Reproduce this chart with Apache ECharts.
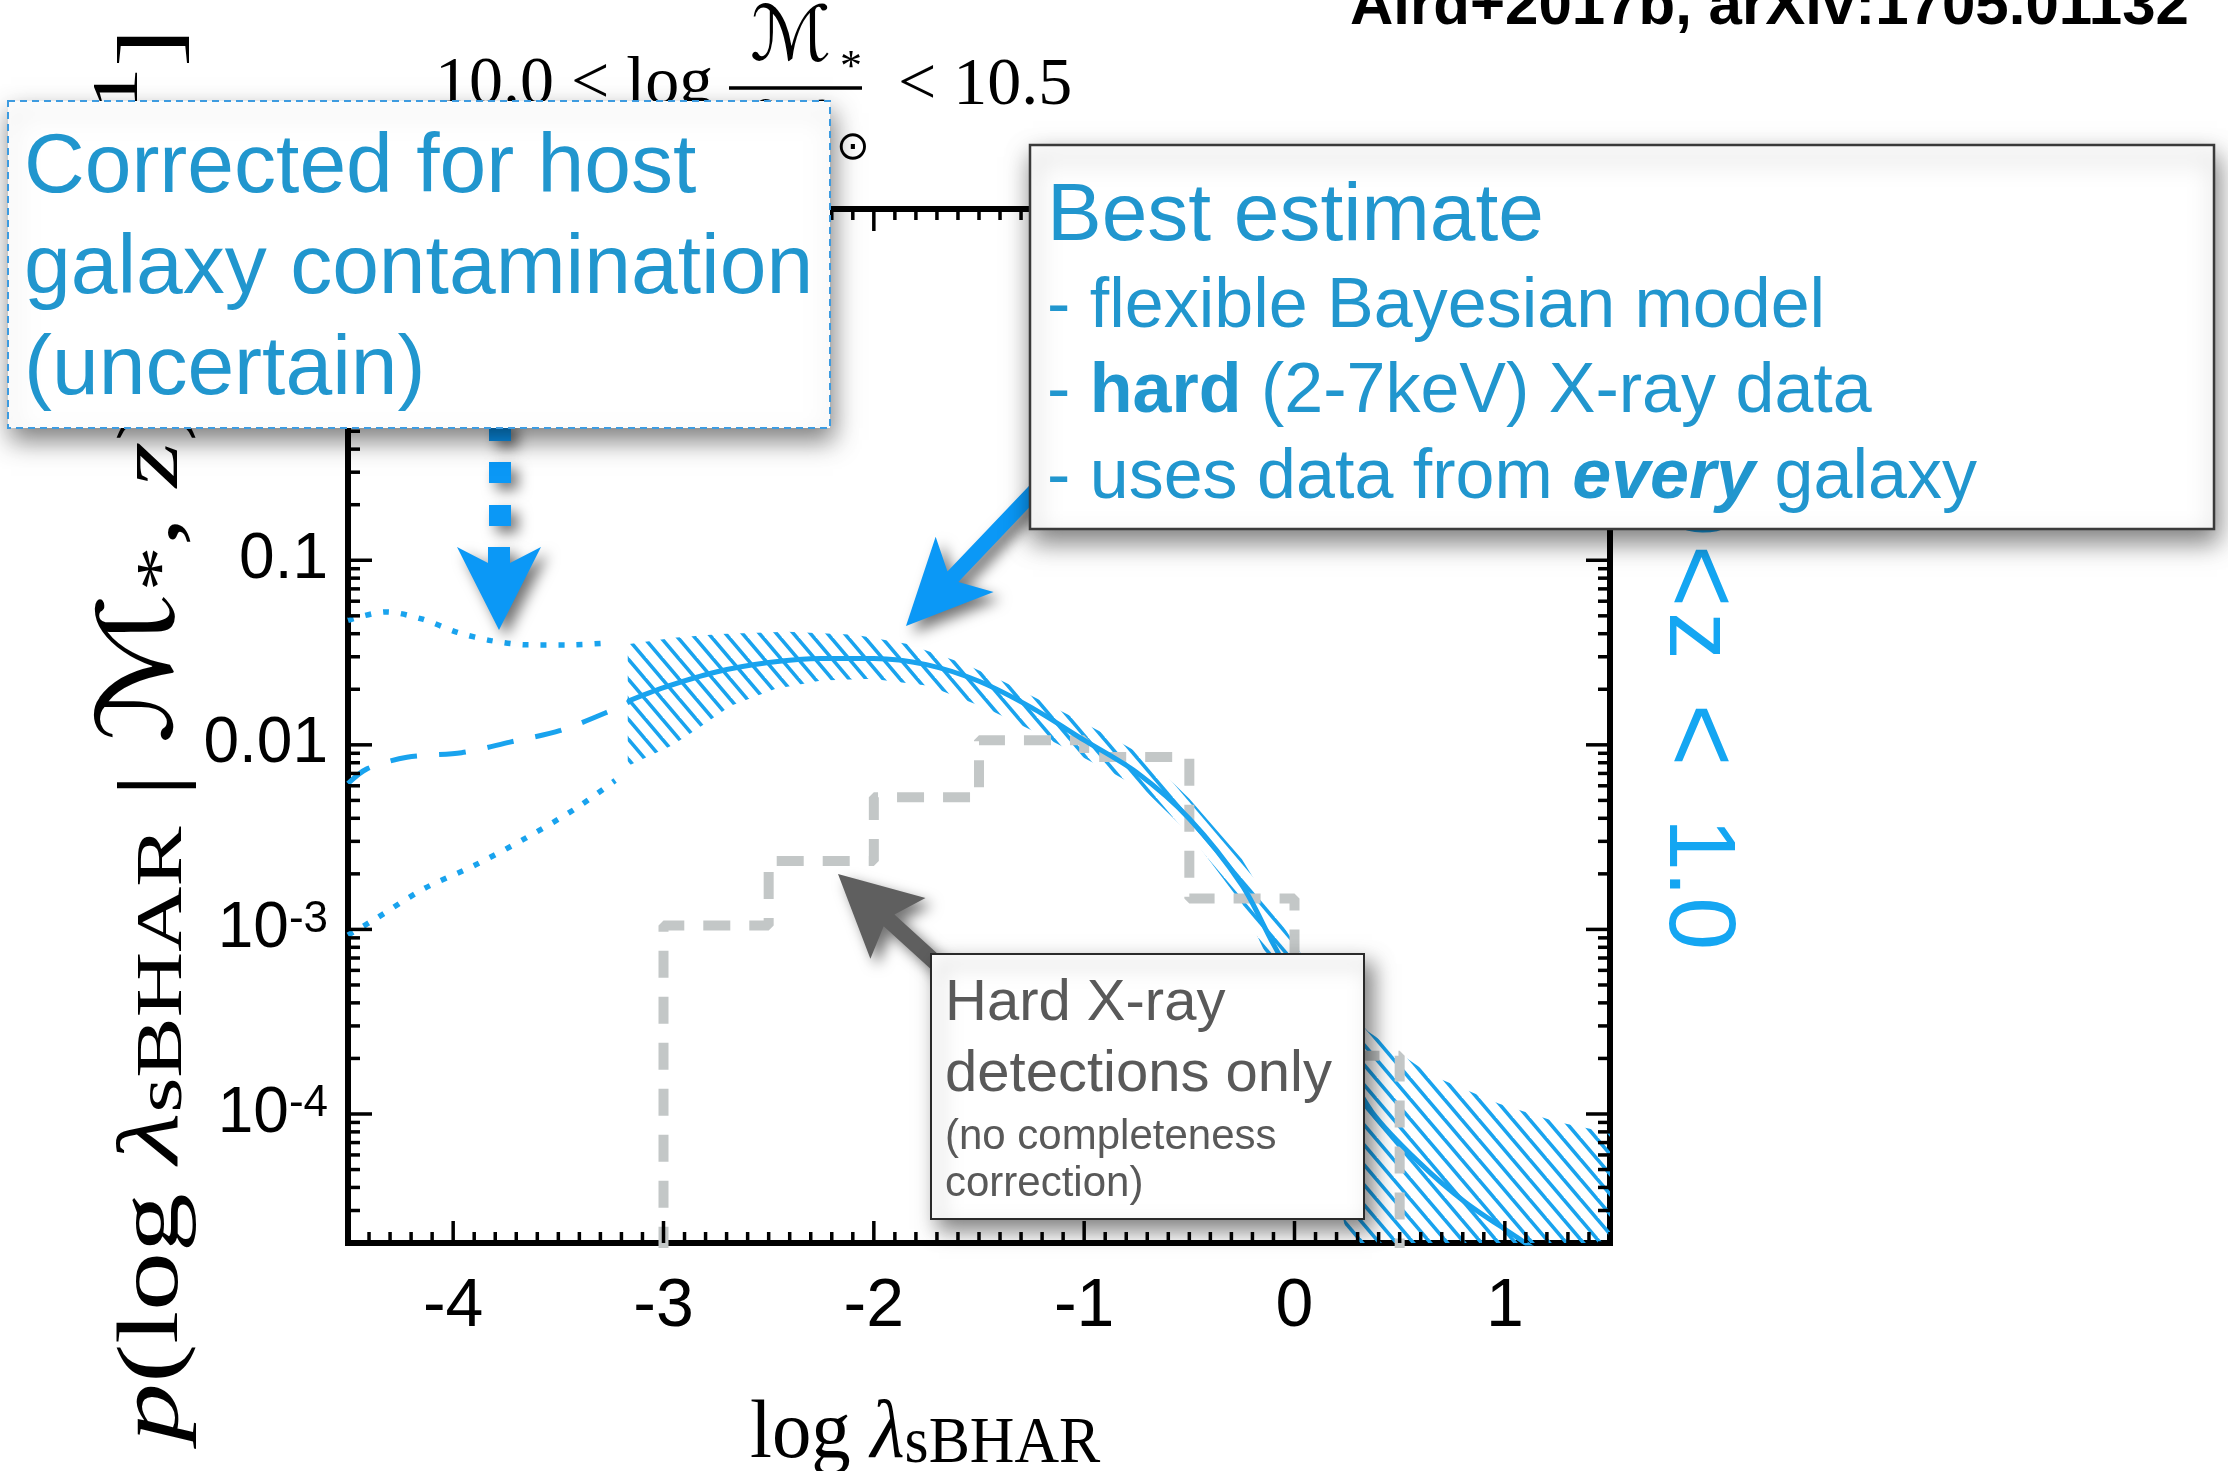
<!DOCTYPE html>
<html>
<head>
<meta charset="utf-8">
<script src="https://cdn.jsdelivr.net/npm/echarts@6/dist/echarts.min.js"></script>
<style>
  html, body { margin: 0; padding: 0; background: #fff; }
  #chart { width: 2228px; height: 1471px; }
</style>
</head>
<body>
<div id="chart"></div>
<script>
// ---------- axes ----------
const xRange = [-4.5, 1.5];
const yRange = [2e-5, 8];
const xTicks = [-4, -3, -2, -1, 0, 1];
const yTicks = [1e-4, 1e-3, 0.01, 0.1, 1];
const yTickLabels = ['10{sup|-4}', '10{sup|-3}', '0.01', '0.1', '1'];

// ---------- hard X-ray detections (no completeness correction) ----------
const histEdges = [-3, -2.5, -2, -1.5, -1, -0.5, 0, 0.5];
const histValues = [1.05e-3, 2.35e-3, 5.2e-3, 0.0106, 8.6e-3, 1.47e-3, 2.07e-4];
const histFloor = 1e-7; // empty bins outside the detected range

// ---------- best estimate: median and uncertainty band ----------
const medianX = [-3.17, -3.0, -2.75, -2.5, -2.25, -2.0, -1.75, -1.5, -1.25, -1.0, -0.75, -0.5, -0.25, -0.1, 0.0, 0.2, 0.37, 0.59, 0.81, 1.06, 1.15];
const medianP = [0.0172, 0.0204, 0.0248, 0.0279, 0.0294, 0.0294, 0.0272, 0.0221, 0.0159, 0.0106, 0.00708, 0.00398, 0.00174, 8.3e-4, 5.25e-4, 2.19e-4, 1.02e-4, 5.5e-5, 3.34e-5, 2.14e-5, 1.82e-5];

const upperX = [-3.17, -2.95, -2.73, -2.41, -2.09, -1.84, -1.57, -1.38, -1.19, -1.01, -0.86, -0.7, -0.5, -0.25, -0.1, 0.1, 0.35, 0.65, 0.97, 1.24, 1.5];
const upperP = [0.0351, 0.0380, 0.0399, 0.0410, 0.0395, 0.0352, 0.0275, 0.0219, 0.0170, 0.0133, 0.0108, 0.0085, 0.0051, 0.0024, 0.00126, 5.6e-4, 2.8e-4, 1.62e-4, 1.14e-4, 9.1e-5, 7.9e-5];

const lowerX = [-3.17, -2.96, -2.84, -2.68, -2.47, -2.25, -2.01, -1.74, -1.46, -1.25, -1.05, -0.86, -0.7, -0.5, -0.25, -0.1, 0.05, 0.2, 0.35, 0.6, 1.0, 1.5];
const lowerP = [0.00767, 0.00991, 0.0122, 0.0163, 0.0201, 0.0223, 0.0228, 0.0209, 0.0157, 0.0120, 0.0091, 0.0070, 0.0055, 0.0033, 0.00138, 6.0e-4, 2.0e-4, 4.0e-5, 6.3e-6, 1e-6, 1e-7, 1e-8];

// ---------- host-galaxy corrected extension (uncertain) ----------
const hostMidX = [-4.5, -4.41, -4.22, -3.96, -3.73, -3.49, -3.23, -3.16];
const hostMidP = [0.00617, 0.00741, 0.00857, 0.00906, 0.01035, 0.01197, 0.01567, 0.01718];
const hostHiX = [-4.5, -4.32, -4.15, -3.98, -3.82, -3.64, -3.45, -3.27];
const hostHiP = [0.0473, 0.0525, 0.0481, 0.0407, 0.0367, 0.0348, 0.0348, 0.0356];
const hostLoX = [-4.5, -4.37, -4.14, -3.90, -3.66, -3.42, -3.23];
const hostLoP = [9.3e-4, 1.14e-3, 1.66e-3, 2.22e-3, 3.10e-3, 4.50e-3, 6.41e-3];

// ---------- styling ----------
const BLUE = '#19a3ee';
const ARROW_BLUE = '#0b98f6';
const TEXT_BLUE = '#2196ce';
const Z_BLUE = '#14a6f2';
const GREY = '#c3c7c7';
const SANS = '"Liberation Sans", Arial, Helvetica, sans-serif';
const SERIF = '"Liberation Serif", "Times New Roman", serif';
const SCRIPT = '"DejaVu Serif", "DejaVu Sans", serif';

const zip = (xs, ys) => xs.map((x, i) => [x, ys[i]]);

function histPoints(edges, vals, floor) {
  const pts = [[edges[0], floor]];
  vals.forEach((v, i) => { pts.push([edges[i], v]); pts.push([edges[i + 1], v]); });
  pts.push([edges[edges.length - 1], floor]);
  return pts;
}

function makeHatch(color, w, h, lw) {
  const c = document.createElement('canvas');
  c.width = w; c.height = h;
  const g = c.getContext('2d');
  g.strokeStyle = color; g.lineWidth = lw;
  for (let k = -1; k <= 1; k++) {
    g.beginPath();
    g.moveTo(k * w - w, -h);
    g.lineTo(k * w + 2 * w, 2 * h);
    g.stroke();
  }
  return c;
}
const hatch = { image: makeHatch(BLUE, 17, 20, 3.6), repeat: 'repeat' };

// arrow outline: tip, unit direction towards the tail, head and shaft sizes
function arrowPts(tip, ux, uy, headLen, headHalf, notch, shaftHalf, shaftLen) {
  const nx = -uy, ny = ux;
  const P = (a, b) => [tip[0] + ux * a + nx * b, tip[1] + uy * a + ny * b];
  return [P(0, 0), P(headLen, headHalf), P(notch, shaftHalf), P(shaftLen, shaftHalf),
          P(shaftLen, -shaftHalf), P(notch, -shaftHalf), P(headLen, -headHalf)];
}
const shadow = { shadowColor: 'rgba(0,0,0,0.55)', shadowBlur: 14, shadowOffsetX: 7, shadowOffsetY: 7 };
const boxShadow = { shadowColor: 'rgba(0,0,0,0.5)', shadowBlur: 24, shadowOffsetX: 3, shadowOffsetY: 12 };

function txt(x, y, text, size, fill, extra) {
  return {
    type: 'text', x: x, y: y, silent: true, z: 51,
    style: Object.assign({ text: text, fontSize: size, fontFamily: SANS, fill: fill, verticalAlign: 'middle', align: 'left' }, extra || {})
  };
}
// one glyph group of the rotated redshift label, centred at y
function zPiece(y, text, size) {
  return {
    type: 'text', x: 1696, y: y, rotation: -Math.PI / 2, z: 10, silent: true,
    style: { text: text, fontSize: size, fontFamily: SANS, fill: Z_BLUE, align: 'center', verticalAlign: 'middle' }
  };
}

const chart = echarts.init(document.getElementById('chart'), null, { renderer: 'canvas' });

const bu = (() => { const l = Math.hypot(1, -1.05); return [1 / l, -1.05 / l]; })();

const option = {
  backgroundColor: '#fff',
  animation: false,
  grid: { left: 348, top: 209, width: 1262, height: 1034, show: true, borderColor: '#000', borderWidth: 6, backgroundColor: 'transparent' },
  xAxis: {
    type: 'value', min: xRange[0], max: xRange[1], interval: 0.5,
    axisLine: { show: false }, axisTick: { show: false }, splitLine: { show: false },
    axisLabel: {
      margin: 30, fontSize: 68, color: '#000', fontFamily: SANS,
      formatter: v => (xTicks.indexOf(v) >= 0 ? String(v) : '')
    }
  },
  yAxis: {
    type: 'log', logBase: 10, min: yRange[0], max: yRange[1],
    axisLine: { show: false }, axisTick: { show: false }, splitLine: { show: false },
    axisLabel: {
      margin: 20, fontSize: 64, color: '#000', fontFamily: SANS, showMinLabel: false, showMaxLabel: false,
      formatter: v => {
        for (let i = 0; i < yTicks.length; i++) {
          if (Math.abs(Math.log10(v) - Math.log10(yTicks[i])) < 1e-6) return yTickLabels[i];
        }
        return '';
      },
      rich: {
        sup: { fontSize: 44, lineHeight: 44, verticalAlign: 'top', fontFamily: SANS, color: '#000' }
      }
    }
  },
  series: [
    {
      type: 'custom', name: 'band', z: 2, silent: true,
      data: [[0, 0]],
      renderItem: (params, api) => {
        const cs = params.coordSys;
        const pts = upperX.map((x, i) => api.coord([x, upperP[i]]));
        for (let i = lowerX.length - 1; i >= 0; i--) pts.push(api.coord([lowerX[i], lowerP[i]]));
        return {
          type: 'polygon',
          shape: { points: pts },
          style: { fill: hatch, stroke: null },
          clipPath: { type: 'rect', shape: { x: cs.x, y: cs.y, width: cs.width, height: cs.height } }
        };
      }
    },
    {
      type: 'line', name: 'hard X-ray detections', z: 3, silent: true, showSymbol: false, symbol: 'none', clip: true,
      data: histPoints(histEdges, histValues, histFloor),
      lineStyle: { color: GREY, width: 10, type: [27, 19], cap: 'butt' }
    },
    {
      type: 'line', name: 'median', z: 4, silent: true, showSymbol: false, symbol: 'none', clip: true, smooth: 0.3,
      data: zip(medianX, medianP),
      lineStyle: { color: BLUE, width: 5 }
    },
    {
      type: 'line', name: 'host corrected', z: 4, silent: true, showSymbol: false, symbol: 'none', clip: true, smooth: 0.3,
      data: zip(hostMidX, hostMidP),
      lineStyle: { color: BLUE, width: 5, type: [27, 22], cap: 'butt' }
    },
    {
      type: 'line', name: 'host upper', z: 4, silent: true, showSymbol: false, symbol: 'none', clip: true, smooth: 0.3,
      data: zip(hostHiX, hostHiP),
      lineStyle: { color: BLUE, width: 5.5, type: [6, 12], cap: 'butt' }
    },
    {
      type: 'line', name: 'host lower', z: 4, silent: true, showSymbol: false, symbol: 'none', clip: true, smooth: 0.3,
      data: zip(hostLoX, hostLoP),
      lineStyle: { color: BLUE, width: 5.5, type: [6, 12], cap: 'butt' }
    },
    {
      // inward tick marks on all four sides of the frame
      type: 'custom', name: 'ticks', z: 6, silent: true,
      data: [[0, 0]],
      renderItem: (params, api) => {
        const cs = params.coordSys;
        const children = [];
        const st = { stroke: '#000', lineWidth: 3.5 };
        const b = cs.y + cs.height, t = cs.y, l = cs.x, r = cs.x + cs.width;
        for (let k = Math.round(xRange[0] * 10); k <= Math.round(xRange[1] * 10); k++) {
          const px = api.coord([k / 10, yRange[0]])[0];
          const len = (k % 10 === 0) ? 22 : 11;
          children.push({ type: 'line', shape: { x1: px, y1: b, x2: px, y2: b - len }, style: st });
          children.push({ type: 'line', shape: { x1: px, y1: t, x2: px, y2: t + len }, style: st });
        }
        for (let d = -5; d <= 0; d++) {
          for (let m = 1; m <= 9; m++) {
            const v = m * Math.pow(10, d);
            if (v < yRange[0] || v > yRange[1]) continue;
            const py = api.coord([xRange[0], v])[1];
            const len = (m === 1) ? 24 : 12;
            children.push({ type: 'line', shape: { x1: l, y1: py, x2: l + len, y2: py }, style: st });
            children.push({ type: 'line', shape: { x1: r, y1: py, x2: r - len, y2: py }, style: st });
          }
        }
        return { type: 'group', children: children };
      }
    }
  ],
  graphic: {
    elements: [
      // reference line at the top right
      { type: 'text', x: 1350, y: 7, z: 60, silent: true,
        style: { text: 'Aird+2017b, arXiv:1705.01132', fontSize: 60, fontWeight: 'bold', fontFamily: SANS, fill: '#000', verticalAlign: 'middle' } },

      // stellar-mass bin title
      { type: 'text', x: 435, y: 85, z: 10, silent: true,
        style: { text: '10.0 < log', fontSize: 68, fontFamily: SERIF, fill: '#000', verticalAlign: 'middle' } },
      { type: 'text', x: 750, y: 40, z: 10, silent: true,
        style: { text: 'ℳ', fontSize: 76, fontFamily: SCRIPT, fill: '#000', verticalAlign: 'middle' } },
      { type: 'text', x: 840, y: 68, z: 10, silent: true,
        style: { text: '*', fontSize: 44, fontFamily: SERIF, fill: '#000', verticalAlign: 'middle' } },
      { type: 'line', z: 10, silent: true, shape: { x1: 729, y1: 88, x2: 862, y2: 88 }, style: { stroke: '#000', lineWidth: 3.5 } },
      { type: 'text', x: 750, y: 136, z: 10, silent: true,
        style: { text: 'ℳ', fontSize: 76, fontFamily: SCRIPT, fill: '#000', verticalAlign: 'middle' } },
      { type: 'text', x: 836, y: 149, z: 10, silent: true,
        style: { text: '⊙', fontSize: 40, fontFamily: '"DejaVu Sans", sans-serif', fill: '#000', verticalAlign: 'middle' } },
      { type: 'text', x: 898, y: 86, z: 10, silent: true,
        style: { text: '< 10.5', fontSize: 68, fontFamily: SERIF, fill: '#000', verticalAlign: 'middle' } },

      // y-axis title (reads upwards)
      { type: 'text', x: 197, y: 1442, rotation: Math.PI / 2, scaleX: 1.37, z: 10, silent: true,
        style: {
          text: '{i|p}{r|(log }{i|λ}{s|sBHAR}{r| | }{c|ℳ}{s|*}{r|, }{i|z}{r|) [dex}{p|−1}{r|]}',
          align: 'left', verticalAlign: 'bottom',
          rich: {
            r: { fontSize: 86, lineHeight: 110, fontFamily: SERIF, fill: '#000', verticalAlign: 'bottom' },
            i: { fontSize: 86, lineHeight: 110, fontFamily: SERIF, fontStyle: 'italic', fill: '#000', verticalAlign: 'bottom' },
            c: { fontSize: 104, lineHeight: 110, fontFamily: SCRIPT, fill: '#000', verticalAlign: 'bottom' },
            s: { fontSize: 66, lineHeight: 74, fontFamily: SERIF, fill: '#000', verticalAlign: 'bottom' },
            p: { fontSize: 66, lineHeight: 40, fontFamily: SERIF, fill: '#000', verticalAlign: 'top' }
          }
        } },

      // x-axis title
      { type: 'text', x: 750, y: 1477, scaleX: 0.95, z: 10, silent: true,
        style: {
          text: '{r|log }{i|λ}{s|sBHAR}',
          align: 'left', verticalAlign: 'bottom',
          rich: {
            r: { fontSize: 83, lineHeight: 100, fontFamily: SERIF, fill: '#000', verticalAlign: 'bottom' },
            i: { fontSize: 83, lineHeight: 100, fontFamily: SERIF, fontStyle: 'italic', fill: '#000', verticalAlign: 'bottom' },
            s: { fontSize: 65, lineHeight: 64, fontFamily: SERIF, fill: '#000', verticalAlign: 'bottom' }
          }
        } },

      // redshift range (reads downwards)
      zPiece(470, '0.0', 95),
      zPiece(576, '<', 108),
      zPiece(636, 'z', 95),
      zPiece(735, '<', 108),
      zPiece(884, '1.0', 95),

      // arrows
      { type: 'rect', z: 45, silent: true, shape: { x: 489, y: 420, width: 22, height: 21 }, style: Object.assign({ fill: ARROW_BLUE }, shadow) },
      { type: 'rect', z: 45, silent: true, shape: { x: 489, y: 462, width: 22, height: 21 }, style: Object.assign({ fill: ARROW_BLUE }, shadow) },
      { type: 'rect', z: 45, silent: true, shape: { x: 489, y: 505, width: 22, height: 21 }, style: Object.assign({ fill: ARROW_BLUE }, shadow) },
      { type: 'polygon', z: 45, silent: true, shape: { points: arrowPts([499, 630], 0, -1, 83, 42, 67, 11, 83) }, style: Object.assign({ fill: ARROW_BLUE }, shadow) },
      { type: 'polygon', z: 45, silent: true, shape: { points: arrowPts([906, 626], bu[0], bu[1], 85, 40, 68, 7.5, 230) }, style: Object.assign({ fill: ARROW_BLUE }, shadow) },
      { type: 'polygon', z: 45, silent: true, shape: { points: arrowPts([838, 874], 0.74, 0.672, 81, 41, 69, 8, 150) }, style: Object.assign({ fill: '#5f5f5f' }, shadow) },

      // box: host galaxy correction
      { type: 'rect', z: 50, silent: true, shape: { x: 8, y: 101, width: 822, height: 327 },
        style: Object.assign({ fill: '#fff', stroke: '#3d9be0', lineWidth: 2, lineDash: [7, 5] }, boxShadow) },
      txt(24, 169, 'Corrected for host', 84, TEXT_BLUE),
      txt(24, 270, 'galaxy contamination', 84, TEXT_BLUE),
      txt(24, 371, '(uncertain)', 84, TEXT_BLUE),

      // box: best estimate
      { type: 'rect', z: 50, silent: true, shape: { x: 1030, y: 145, width: 1184, height: 384 },
        style: Object.assign({ fill: '#fff', stroke: '#3a3a3a', lineWidth: 2.5 }, boxShadow) },
      txt(1047, 217, 'Best estimate', 82, TEXT_BLUE),
      txt(1047, 308, '- flexible Bayesian model', 70, TEXT_BLUE),
      txt(1047, 393, '{n|- }{b|hard}{n| (2-7keV) X-ray data}', 70, TEXT_BLUE, {
        rich: {
          n: { fontSize: 70, fontFamily: SANS, fill: TEXT_BLUE },
          b: { fontSize: 70, fontFamily: SANS, fontWeight: 'bold', fill: TEXT_BLUE }
        } }),
      txt(1047, 479, '{n|- uses data from }{b|every}{n| galaxy}', 70, TEXT_BLUE, {
        rich: {
          n: { fontSize: 70, fontFamily: SANS, fill: TEXT_BLUE },
          b: { fontSize: 70, fontFamily: SANS, fontWeight: 'bold', fontStyle: 'italic', fill: TEXT_BLUE }
        } }),

      // box: detections only
      { type: 'rect', z: 50, silent: true, shape: { x: 931, y: 954, width: 433, height: 265 },
        style: { fill: '#fff', stroke: '#2a2a2a', lineWidth: 2, shadowColor: 'rgba(0,0,0,0.5)', shadowBlur: 20, shadowOffsetX: 8, shadowOffsetY: 10 } },
      txt(945, 1004, 'Hard X-ray', 58, '#595959'),
      txt(945, 1075, 'detections only', 58, '#595959'),
      txt(945, 1137, '(no completeness', 42, '#595959'),
      txt(945, 1184, 'correction)', 42, '#595959')
    ]
  }
};

chart.setOption(option);
</script>
</body>
</html>
